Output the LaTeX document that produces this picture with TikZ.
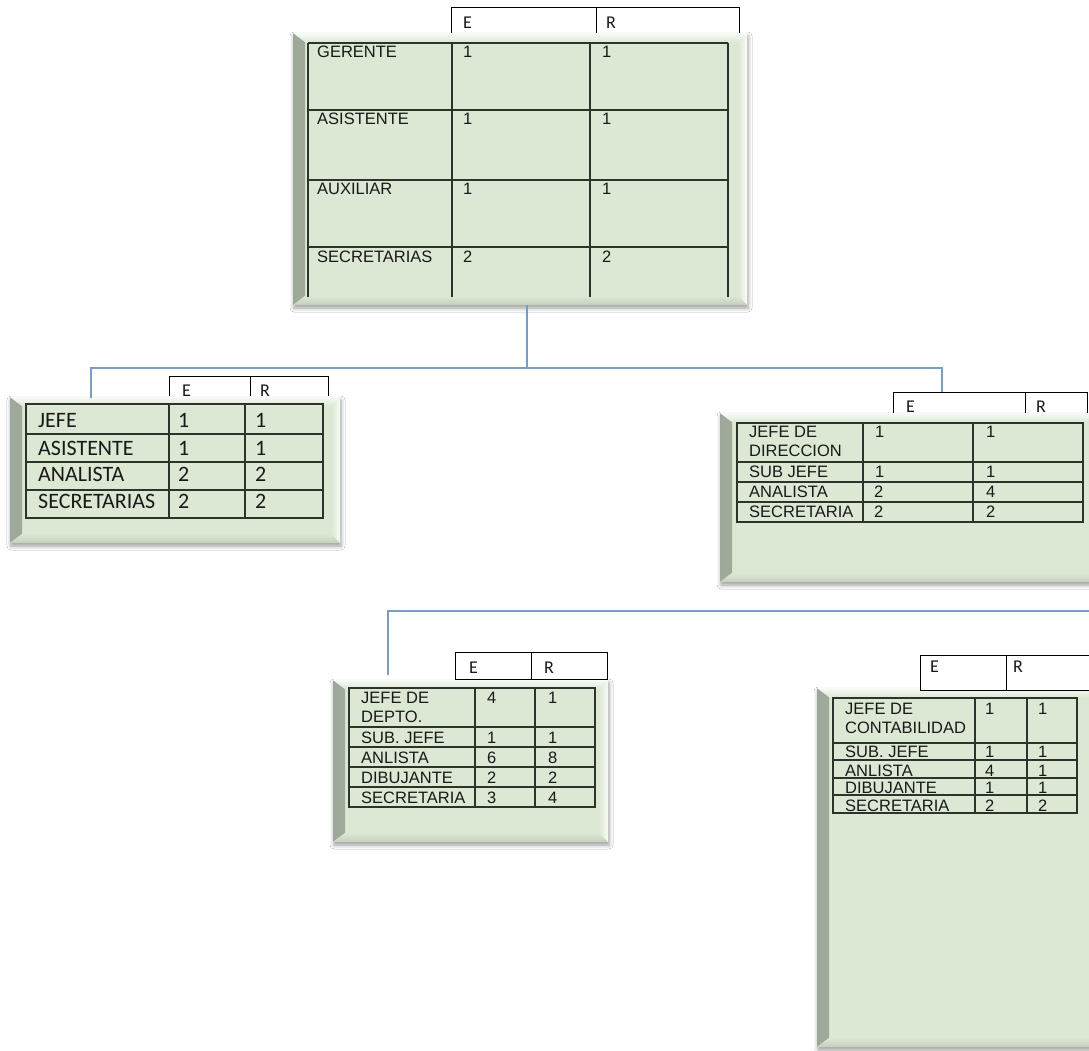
\documentclass[tikz,border=0pt]{standalone}
\usepackage{fontspec}
\newfontfamily\arialf{Liberation Sans}
\newfontfamily\calf{Carlito}
\usetikzlibrary{shadows.blur}

\definecolor{boxgreen}{RGB}{221,232,212}
\definecolor{bevdark}{RGB}{158,168,152}
\definecolor{bevlight}{RGB}{248,251,246}
\definecolor{bevbot}{RGB}{196,206,189}
\definecolor{connblue}{RGB}{120,158,200}
\definecolor{gridc}{RGB}{45,50,42}

\tikzset{
  bevelbox/.style={rectangle, inner sep=0pt, fill=boxgreen,
    blur shadow={shadow xshift=1pt, shadow yshift=-3pt, shadow blur radius=4pt, shadow opacity=40},
    path picture={
      \shade[left color=bevdark, right color=boxgreen]
        (path picture bounding box.south west) -- (path picture bounding box.north west)
        -- ([xshift=12pt,yshift=-9pt]path picture bounding box.north west)
        -- ([xshift=12pt,yshift=9pt]path picture bounding box.south west) -- cycle;
      \shade[top color=bevlight, bottom color=boxgreen]
        (path picture bounding box.north west) -- (path picture bounding box.north east)
        -- ([xshift=-9pt,yshift=-9pt]path picture bounding box.north east)
        -- ([xshift=12pt,yshift=-9pt]path picture bounding box.north west) -- cycle;
      \shade[left color=boxgreen, right color=bevlight]
        (path picture bounding box.north east) -- (path picture bounding box.south east)
        -- ([xshift=-9pt,yshift=9pt]path picture bounding box.south east)
        -- ([xshift=-9pt,yshift=-9pt]path picture bounding box.north east) -- cycle;
      \shade[top color=boxgreen, bottom color=bevbot]
        (path picture bounding box.south west) -- (path picture bounding box.south east)
        -- ([xshift=-9pt,yshift=9pt]path picture bounding box.south east)
        -- ([xshift=12pt,yshift=9pt]path picture bounding box.south west) -- cycle;
    }},
  grid/.style={draw=gridc, line width=1.1pt},
  hdrline/.style={draw=black, line width=1pt},
  conn/.style={draw=connblue, line width=1.2pt},
  lbl/.style={anchor=base west, inner sep=0pt, text=black!90, font=\arialf\fontsize{16.5}{16.5}\selectfont},
  clbl/.style={anchor=base west, inner sep=0pt, text=black!90, font=\calf\fontsize{22}{22}\selectfont},
  hlbl/.style={anchor=base west, inner sep=0pt, text=black!90, font=\calf\fontsize{18}{18}\selectfont},
}

\begin{document}
\begin{tikzpicture}[x=1pt,y=-1pt]
\clip (0,0) rectangle (1089,1051);
\fill[white] (0,0) rectangle (1089,1051);

% ---------- connector junctions ----------
\coordinate (busA) at (527,368);
\coordinate (dropL) at (91,398);
\coordinate (dropR) at (942,393);
\coordinate (busBend) at (1089,611);
\coordinate (dropM) at (388,675);

% ---------- boxes ----------
\node[bevelbox, minimum width=454pt, minimum height=272pt] (gerencia) at (520,169) {};
\node[bevelbox, minimum width=330pt, minimum height=146pt] (areaA) at (175,470) {};
\node[bevelbox, minimum width=380pt, minimum height=169pt] (direccion) at (910,497.5) {};
\node[bevelbox, minimum width=275pt, minimum height=162pt] (depto) at (470.5,761) {};
\node[bevelbox, minimum width=283pt, minimum height=359pt] (conta) at (958.5,867.5) {};

\draw[conn] (gerencia.south -| busA) -- (busA);
\draw[conn] (dropL) |- (busA) -| (dropR);
\draw[conn] (dropM) |- (busBend);

% ---------- top table ----------
\draw[hdrline] (451,33) |- (739,8) -- (739,33);
\draw[hdrline] (596,8) -- (596,33);
\node[hlbl] (gE) at (463,29) {E};
\node[hlbl] (gR) at (606,29) {R};
\foreach \y in {43,110,180,247} \draw[grid] (308,\y) -- (728,\y);
\foreach \x in {308,452,590,728} \draw[grid] (\x,43) -- (\x,297);
\node[lbl] (g1) at (317,58) {GERENTE};
\node[lbl] (g2) at (317,125) {ASISTENTE};
\node[lbl] (g3) at (317,195) {AUXILIAR};
\node[lbl] (g4) at (317,262) {SECRETARIAS};
\node[lbl] (g1e) at (463,58) {1};   \node[lbl] (g1r) at (602,58) {1};
\node[lbl] (g2e) at (463,125) {1};  \node[lbl] (g2r) at (602,125) {1};
\node[lbl] (g3e) at (463,195) {1};  \node[lbl] (g3r) at (602,195) {1};
\node[lbl] (g4e) at (463,262) {2};  \node[lbl] (g4r) at (602,262) {2};

% ---------- left table ----------
\draw[hdrline] (169,396) |- (328,376) -- (328,396);
\draw[hdrline] (250,376) -- (250,396);
\node[hlbl] (aE) at (182,396) {E};
\node[hlbl] (aR) at (260,396) {R};
\draw[grid] (26,404) rectangle (323,518);
\foreach \y in {434,462,490} \draw[grid] (26,\y) -- (323,\y);
\foreach \x in {169,245} \draw[grid] (\x,404) -- (\x,518);
\node[clbl] (a1) at (38,427) {JEFE};
\node[clbl] (a2) at (38,455) {ASISTENTE};
\node[clbl] (a3) at (38,481) {ANALISTA};
\node[clbl] (a4) at (38,508) {SECRETARIAS};
\node[clbl] (a1e) at (178,427) {1};  \node[clbl] (a1r) at (255,427) {1};
\node[clbl] (a2e) at (178,455) {1};  \node[clbl] (a2r) at (255,455) {1};
\node[clbl] (a3e) at (178,481) {2};  \node[clbl] (a3r) at (255,481) {2};
\node[clbl] (a4e) at (178,508) {2};  \node[clbl] (a4r) at (255,508) {2};

% ---------- right table ----------
\draw[hdrline] (893,413) |- (1087,392) -- (1087,413);
\draw[hdrline] (1025,392) -- (1025,413);
\node[hlbl] (dE) at (906,412) {E};
\node[hlbl] (dR) at (1036,412) {R};
\draw[grid] (737,423) rectangle (1083,522);
\foreach \y in {462,482,502} \draw[grid] (737,\y) -- (1083,\y);
\foreach \x in {863,973} \draw[grid] (\x,423) -- (\x,522);
\node[lbl] (d1) at (749,437) {JEFE DE};
\node[lbl] (d1b) at (749,456) {DIRECCION};
\node[lbl] (d2) at (749,477) {SUB JEFE};
\node[lbl] (d3) at (749,497) {ANALISTA};
\node[lbl] (d4) at (749,517) {SECRETARIA};
\node[lbl] (d1e) at (875,437) {1};  \node[lbl] (d1r) at (986,437) {1};
\node[lbl] (d2e) at (875,477) {1};  \node[lbl] (d2r) at (986,477) {1};
\node[lbl] (d3e) at (874,497) {2};  \node[lbl] (d3r) at (986,497) {4};
\node[lbl] (d4e) at (874,517) {2};  \node[lbl] (d4r) at (986,517) {2};

% ---------- middle table ----------
\draw[hdrline, fill=white] (455,652) rectangle (607,679);
\draw[hdrline] (531,652) -- (531,679);
\node[hlbl] (mE) at (469,673) {E};
\node[hlbl] (mR) at (544,673) {R};
\draw[grid] (349,688) rectangle (595,807);
\foreach \y in {727,747,767,787} \draw[grid] (349,\y) -- (595,\y);
\foreach \x in {475,535} \draw[grid] (\x,688) -- (\x,807);
\node[lbl] (m1) at (361,703) {JEFE DE};
\node[lbl] (m1b) at (361,722) {DEPTO.};
\node[lbl] (m2) at (361,743) {SUB. JEFE};
\node[lbl] (m3) at (361,763) {ANLISTA};
\node[lbl] (m4) at (361,783) {DIBUJANTE};
\node[lbl] (m5) at (361,803) {SECRETARIA};
\node[lbl] (m1e) at (487,703) {4};  \node[lbl] (m1r) at (548,703) {1};
\node[lbl] (m2e) at (487,743) {1};  \node[lbl] (m2r) at (548,743) {1};
\node[lbl] (m3e) at (487,763) {6};  \node[lbl] (m3r) at (548,763) {8};
\node[lbl] (m4e) at (487,783) {2};  \node[lbl] (m4r) at (548,783) {2};
\node[lbl] (m5e) at (487,803) {3};  \node[lbl] (m5r) at (548,803) {4};

% ---------- bottom right table ----------
\draw[hdrline, fill=white] (920,655) rectangle (1100,690);
\draw[hdrline] (1006,655) -- (1006,690);
\node[hlbl] (cE) at (930,672) {E};
\node[hlbl] (cR) at (1013,672) {R};
\draw[grid] (833,698) rectangle (1077,813);
\foreach \y in {743,760,778,795} \draw[grid] (833,\y) -- (1077,\y);
\foreach \x in {975,1027} \draw[grid] (\x,698) -- (\x,813);
\node[lbl] (c1) at (845,714) {JEFE DE};
\node[lbl] (c1b) at (845,733) {CONTABILIDAD};
\node[lbl] (c2) at (845,757) {SUB. JEFE};
\node[lbl] (c3) at (845,776) {ANLISTA};
\node[lbl] (c4) at (845,793) {DIBUJANTE};
\node[lbl] (c5) at (845,811) {SECRETARIA};
\node[lbl] (c1e) at (985,714) {1};  \node[lbl] (c1r) at (1038,714) {1};
\node[lbl] (c2e) at (985,757) {1};  \node[lbl] (c2r) at (1038,757) {1};
\node[lbl] (c3e) at (985,776) {4};  \node[lbl] (c3r) at (1038,776) {1};
\node[lbl] (c4e) at (985,793) {1};  \node[lbl] (c4r) at (1038,793) {1};
\node[lbl] (c5e) at (985,811) {2};  \node[lbl] (c5r) at (1038,811) {2};
\end{tikzpicture}
\end{document}
